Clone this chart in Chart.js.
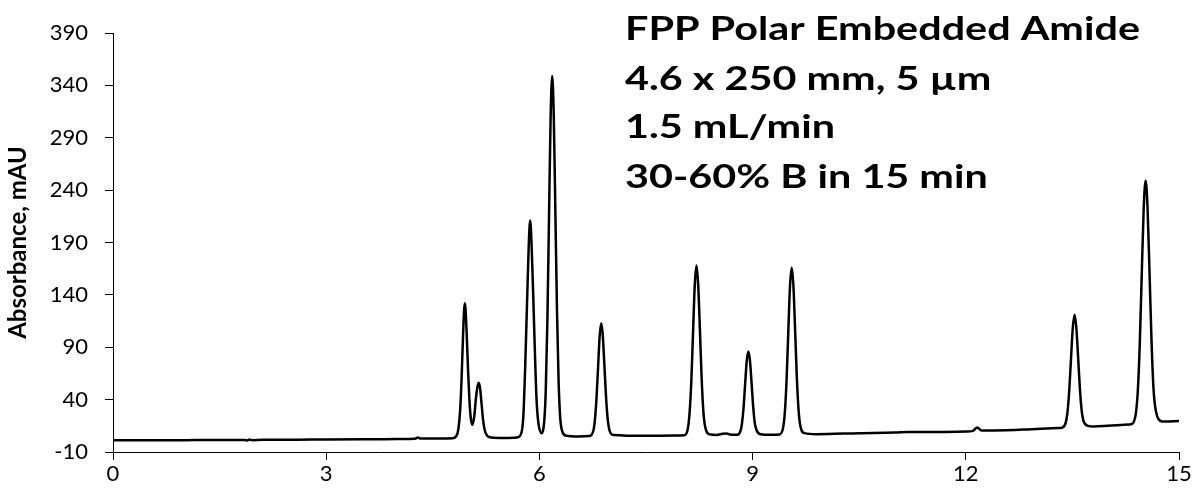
<!DOCTYPE html>
<html>
<head>
<meta charset="utf-8">
<script src="https://cdn.jsdelivr.net/npm/chart.js@4"></script>
<style>
  html, body { margin: 0; padding: 0; background: #fff; }
  #wrap { width: 1195px; height: 499px; }
</style>
</head>
<body>
<div id="wrap"><canvas id="hromatogram"></canvas></div>
<script>
// retention time (min)
var timeMin = [
    0, 0.5, 1.0, 1.5, 1.86, 1.89, 1.92, 1.96, 2.1, 2.6, 3.0, 3.5, 4.0, 4.25, 4.29, 4.33, 4.6, 4.78,
    4.83, 4.86, 4.885, 4.905, 4.925, 4.94, 4.95, 4.96, 4.975, 4.995, 5.015, 5.035, 5.06, 5.085, 5.105, 5.125, 5.145, 5.165, 5.185, 5.205, 5.23, 5.26, 5.32, 5.5, 5.65,
    5.71, 5.76, 5.78, 5.80, 5.825, 5.85, 5.87, 5.89, 5.915, 5.94, 5.96, 5.985, 6.03, 6.07, 6.09, 6.1125, 6.135, 6.1575, 6.18, 6.2025, 6.225, 6.2475, 6.27, 6.2925, 6.32, 6.38, 6.55,
    6.70, 6.76, 6.78, 6.8025, 6.825, 6.8475, 6.87, 6.8925, 6.915, 6.9375, 6.96, 6.985, 7.04, 7.5, 7.9,
    8.04, 8.09, 8.114, 8.138, 8.162, 8.186, 8.21, 8.234, 8.258, 8.282, 8.306, 8.33, 8.39, 8.5, 8.58, 8.63, 8.7,
    8.78, 8.83, 8.85, 8.8725, 8.895, 8.9175, 8.94, 8.9625, 8.985, 9.0075, 9.03, 9.055, 9.11, 9.25,
    9.38, 9.43, 9.454, 9.478, 9.502, 9.526, 9.55, 9.574, 9.598, 9.622, 9.646, 9.67, 9.73, 9.9, 10.5, 11.0, 11.2, 11.6, 12.0, 12.1, 12.16, 12.22, 12.4, 13.0, 13.3,
    13.355, 13.405, 13.43, 13.455, 13.48, 13.505, 13.53, 13.555, 13.58, 13.605, 13.63, 13.655, 13.72, 13.8, 14.0, 14.3,
    14.34, 14.3925, 14.42, 14.4475, 14.475, 14.5025, 14.53, 14.5575, 14.585, 14.6125, 14.64, 14.6675, 14.73, 14.8, 15.0
];
// absorbance (mAU), same order as timeMin
var absorbance = [
    1.2, 1.2, 1.3, 1.4, 1.5, 0.9, 1.9, 1.3, 1.6, 1.8, 1.9, 2.1, 2.5, 2.7, 3.8, 2.8, 3.0, 3.2,
    5, 12, 30, 60, 100, 125, 132, 127, 106, 70, 40, 22, 16, 25, 40, 51, 56, 51, 37, 22, 11, 6, 3.8, 3.4, 3.6,
    4.5, 13, 32, 71, 130, 187, 211, 188, 135, 78, 40, 18, 8, 21, 50, 116, 213, 308, 349, 310, 218, 125, 58, 23, 10, 5.5, 4.8,
    5.2, 10.5, 20, 40, 70, 100, 113, 101, 72, 43, 22, 11, 6.2, 5.4, 5.7,
    6, 12.7, 28, 58, 104, 149, 168, 150, 108, 62, 30, 15, 7, 6.3, 7.5, 7.6, 6.4,
    6.4, 10.2, 17, 32, 55, 77, 86, 77.5, 56.5, 34, 18, 11, 7, 6.4,
    6.8, 13.5, 28, 58.5, 104, 148, 166, 149, 107, 62, 31, 15.5, 8, 7, 8, 8.6, 9.2, 9.2, 9.6, 10.2, 13.5, 10.6, 10.6, 12, 12.8,
    13.3, 17.8, 27.6, 48, 78.5, 108, 121, 109, 81, 51, 30, 20, 15, 14.3, 15, 16.3,
    16.8, 26.7, 47.8, 92, 157.5, 221, 249, 223, 162, 98, 52, 32, 20, 19, 19.5
];
var xTicks = [0, 3, 6, 9, 12, 15];
var yTicks = [-10, 40, 90, 140, 190, 240, 290, 340, 390];
var noteLines = ["FPP Polar Embedded Amide", "4.6 x 250 mm, 5 \u00b5m", "1.5 mL/min", "30-60% B in 15 min"];

if (timeMin.length !== absorbance.length) {
    console.error("duzine nisu iste", timeMin.length, absorbance.length);
}

var tacke = [];
for (let i = 0; i < timeMin.length; i++) {
    tacke.push({x: timeMin[i], y: absorbance[i]});
}

var FONT = "Lato";

// text block top right; the original font is wider than Lato, so stretch it a bit
var napomena = {
    id: "napomena",
    afterDraw: function(chart) {
        var ctx = chart.ctx;
        ctx.save();
        ctx.fillStyle = "#000";
        ctx.font = "bold 32px " + FONT;
        ctx.textBaseline = "alphabetic";
        ctx.textAlign = "left";
        var sx = 515 / ctx.measureText(noteLines[0]).width;
        var rows = [40, 90, 138, 188];
        for (let i = 0; i < noteLines.length; i++) {
            ctx.save();
            ctx.translate(625, rows[i]);
            ctx.scale(sx, 1);
            ctx.fillText(noteLines[i], 0, 0);
            ctx.restore();
        }
        ctx.restore();
    }
};

new Chart("hromatogram", {
    type: "line",
    data: {
        datasets: [{
            data: tacke,
            borderColor: "#000",
            borderWidth: 2.5,
            pointRadius: 0,
            fill: false,
            cubicInterpolationMode: "monotone"
        }]
    },
    plugins: [napomena],
    options: {
        responsive: true,
        maintainAspectRatio: false,
        animation: false,
        devicePixelRatio: 1,
        layout: {padding: {top: 33, right: 16, left: 0, bottom: 0}},
        plugins: {
            legend: {display: false},
            tooltip: {enabled: false}
        },
        scales: {
            x: {
                type: "linear",
                min: 0,
                max: 15,
                afterBuildTicks: function(axis) { axis.ticks = xTicks.map(v => ({value: v})); },
                afterFit: function(axis) { axis.height = 47; },
                ticks: {color: "#000", font: {family: FONT, size: 22}, padding: 1, maxRotation: 0},
                grid: {display: true, drawOnChartArea: false, drawTicks: true, tickLength: 8, color: "#000"},
                border: {display: true, color: "#000", width: 1}
            },
            y: {
                min: -10,
                max: 390,
                afterBuildTicks: function(axis) { axis.ticks = yTicks.map(v => ({value: v})); },
                afterFit: function(axis) { axis.width = 113; },
                ticks: {color: "#000", font: {family: FONT, size: 22}, padding: 17},
                grid: {display: true, drawOnChartArea: false, drawTicks: true, tickLength: 8, color: "#000"},
                border: {display: true, color: "#000", width: 1},
                title: {
                    display: true,
                    text: "Absorbance, mAU",
                    color: "#000",
                    font: {family: FONT, size: 24, weight: "bold"},
                    padding: {top: 4, bottom: 0}
                }
            }
        }
    }
});
</script>
</body>
</html>
